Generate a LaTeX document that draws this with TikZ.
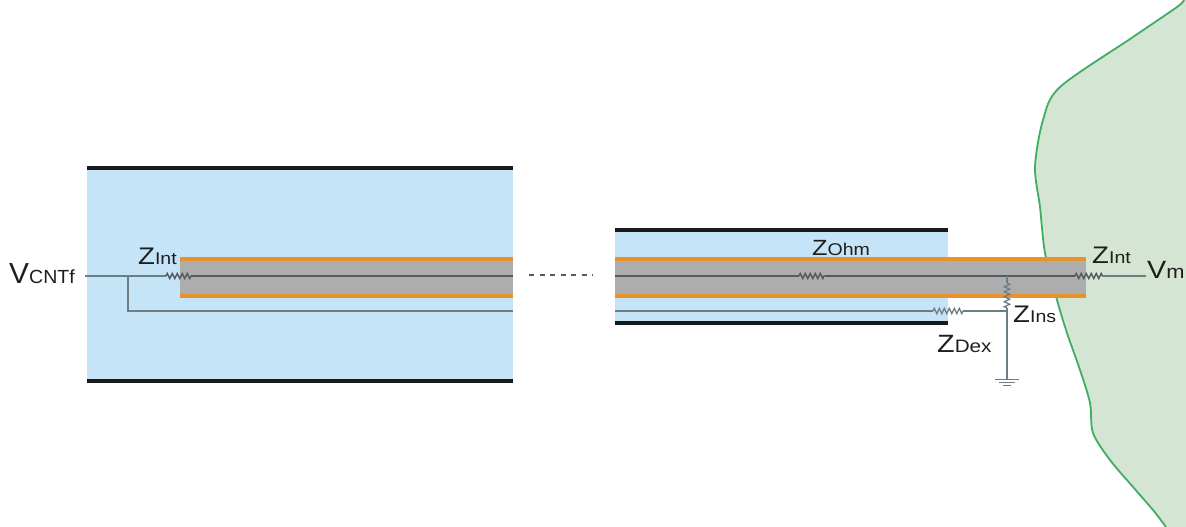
\documentclass[tikz,border=0pt]{standalone}
\usepackage{fontspec}
\setmainfont{Liberation Sans}
\usetikzlibrary{decorations.pathmorphing}
\definecolor{sheath}{HTML}{C5E4F8}
\definecolor{corefill}{HTML}{ADADAD}
\definecolor{coat}{HTML}{E8922C}
\definecolor{tissue}{HTML}{D5E5D3}
\definecolor{tissueedge}{HTML}{3FAE62}
\definecolor{wirec}{HTML}{6D7D86}
\definecolor{corewire}{HTML}{555A5E}
\definecolor{ink}{HTML}{1E1E1E}
% symbol with a same-baseline smaller suffix, set a little wide
\newcommand\symsub[5]{\scalebox{#5}[1]{{\fontsize{#1}{#1}\selectfont #3}{\fontsize{#2}{#2}\selectfont #4}}}
\begin{document}
\begin{tikzpicture}[x=1pt,y=-1pt,
  bar/.style={line width=4pt, black!90},
  coatline/.style={line width=4.2pt, coat},
  wire/.style={line width=1.3pt, wirec},
  cwire/.style={line width=1.4pt, corewire},
  resistor/.style={decorate, decoration={zigzag, segment length=5pt, amplitude=2.6pt}},
  lbl/.style={anchor=base west, inner sep=0pt, text=ink}]
\useasboundingbox (0,0) rectangle (1186,527);

% tissue on the right
\fill[tissue] plot[smooth] coordinates {(1184,0) (1177,7) (1133,37) (1060,87) (1043,120) (1035,167) (1040,207) (1045,253) (1057,300) (1067,333) (1080,370) (1090,403) (1093,433) (1110,460) (1133,487) (1153,510) (1166,527)} -- (1186,527) -- (1186,0) -- cycle;
\draw[tissueedge, line width=1.8pt] plot[smooth] coordinates {(1184,0) (1177,7) (1133,37) (1060,87) (1043,120) (1035,167) (1040,207) (1045,253) (1057,300) (1067,333) (1080,370) (1090,403) (1093,433) (1110,460) (1133,487) (1153,510) (1166,527)};

% left segment of the fibre
\fill[sheath] (87,168) rectangle (513,381);
\draw[bar] (87,168) -- (513,168);
\draw[bar] (87,381) -- (513,381);
\fill[corefill] (180,259) rectangle (513,296);
\draw[coatline] (180,259) -- (513,259);
\draw[coatline] (180,296) -- (513,296);

% right segment of the fibre
\fill[sheath] (615,230) rectangle (948,323);
\draw[bar] (615,230) -- (948,230);
\draw[bar] (615,323) -- (948,323);
\fill[corefill] (615,259) rectangle (1086,296);
\draw[coatline] (615,259) -- (1086,259);
\draw[coatline] (615,296) -- (1086,296);

% labels
\node[lbl] (vcntf) at (9,283) {\symsub{29}{19}{V}{CNTf}{1.03}};
\node[lbl] (zint1) at (138,264) {\symsub{24}{17}{Z}{Int}{1.15}};
\node[lbl] (zohm) at (812,255) {\symsub{22}{17}{Z}{Ohm}{1.15}};
\node[lbl] (zins) at (1013,322) {\symsub{24}{17}{Z}{Ins}{1.15}};
\node[lbl] (zdex) at (937,352) {\symsub{25}{18}{Z}{Dex}{1.15}};
\node[lbl] (zint2) at (1092,263) {\symsub{24}{17}{Z}{Int}{1.15}};
\node[lbl] (vm) at (1147,278) {\symsub{25}{19}{V}{m}{1.15}};

% circuit points, left
\coordinate (vin) at (85,276);
\coordinate (tap) at (128,276);
\coordinate (riA) at (166,276);
\coordinate (riB) at (191,276);
\coordinate (lend) at (513,276);
\coordinate (tapd) at (128,311);
\coordinate (lret) at (513,311);
% circuit points, right
\coordinate (rstart) at (615,276);
\coordinate (rohmA) at (799,276);
\coordinate (rohmB) at (825,276);
\coordinate (rjunc) at (1007,276);
\coordinate (rintA) at (1075,276);
\coordinate (rintB) at (1103,276);
\coordinate (vmend) at (1146,276);
\coordinate (insA) at (1007,283);
\coordinate (insB) at (1007,308);
\coordinate (dexJ) at (1007,311);
\coordinate (gnd) at (1007,379);
\coordinate (dstart) at (615,311);
\coordinate (dexA) at (933,311);
\coordinate (dexB) at (963,311);
\coordinate (gapL) at (529,275);
\coordinate (gapR) at (593,275);

% left circuit
\draw[wire] (vin) -- (riA);
\draw[cwire, resistor] (riA) -- (riB);
\draw[cwire] (riB) -- (lend);
\draw[wire] (tap) -- (tapd) -- (lret);

% continuation marks
\draw[corewire, line width=2.2pt, dash pattern=on 5pt off 5.5pt] (gapL) -- (gapR);

% right circuit
\draw[cwire] (rstart) -- (rohmA);
\draw[cwire, resistor] (rohmA) -- (rohmB);
\draw[cwire] (rohmB) -- (rintA);
\draw[cwire, resistor] (rintA) -- (rintB);
\draw[wire] (rintB) -- (vmend);
\draw[wire] (rjunc) -- (insA);
\draw[wire, resistor] (insA) -- (insB);
\draw[wire] (insB) -- (dexJ) -- (gnd);
\draw[wire] (dstart) -- (dexA);
\draw[wire, resistor] (dexA) -- (dexB);
\draw[wire] (dexB) -- (dexJ);

% ground
\draw[wire, line width=1pt] ([xshift=-12pt]gnd) -- ([xshift=12pt]gnd);
\draw[wire, line width=1pt] ([xshift=-8pt,yshift=-3pt]gnd) -- ([xshift=8pt,yshift=-3pt]gnd);
\draw[wire, line width=1pt] ([xshift=-4pt,yshift=-6pt]gnd) -- ([xshift=4pt,yshift=-6pt]gnd);
\end{tikzpicture}
\end{document}
